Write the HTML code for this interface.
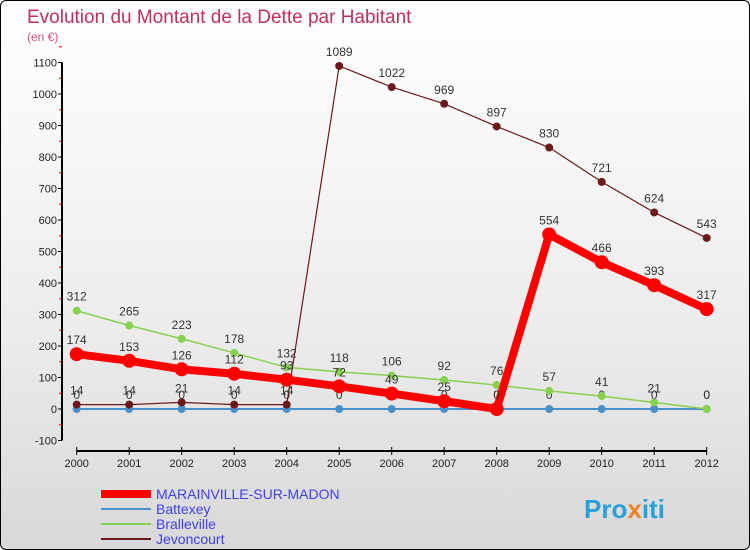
<!DOCTYPE html>
<html><head><meta charset="utf-8"><style>
body{margin:0;width:750px;height:550px;overflow:hidden;font-family:"Liberation Sans",sans-serif}
#frame{position:absolute;left:0;top:0;width:748px;height:548px;border:1px solid #000;border-radius:6px;background:linear-gradient(#fff 0%,#ececec 60%,#d8d8d8 100%);overflow:hidden}
</style></head><body>
<div id="frame">
<svg id="chart" width="750" height="550" style="position:absolute;left:0;top:0">
<text x="26" y="22" font-size="19" fill="#c0305a">Evolution du Montant de la Dette par Habitant</text>
<text x="26" y="40" font-size="12" fill="#d0507a">(en €)</text>
<g id="axes"></g><g id="series"></g><g id="legend"></g>
<text x="583" y="517" font-size="26" font-weight="bold" fill="#2aa0d8">Pro<tspan fill="#f08020">x</tspan>iti</text>
</svg>
</div>
<script>
const years=[2000,2001,2002,2003,2004,2005,2006,2007,2008,2009,2010,2011,2012];
const yTicks=[-100,0,100,200,300,400,500,600,700,800,900,1000,1100];
const marainville=[174,153,126,112,93,72,49,25,0,554,466,393,317];
const battexey=[0,0,0,0,0,0,0,0,0,0,0,0,0];
const bralleville=[312,265,223,178,132,118,106,92,76,57,41,21,0];
const jevoncourt=[14,14,21,14,14,1089,1022,969,897,830,721,624,543];
const NS="http://www.w3.org/2000/svg";
const X=i=>75.7+i*52.5;
const Y=v=>408-v*0.315;
function mk(tag,attrs,parent){const e=document.createElementNS(NS,tag);for(const k in attrs)e.setAttribute(k,attrs[k]);parent.appendChild(e);return e;}
const axes=document.getElementById('axes');
let a=mk('line',{x1:61,y1:Y(1100),x2:61,y2:Y(-100),stroke:'#000','stroke-width':2},axes);


a=mk('line',{x1:X(0),y1:450,x2:X(12),y2:450,stroke:'#000','stroke-width':2},axes);


yTicks.forEach(t=>{
 mk('line',{x1:57,y1:Y(t),x2:61,y2:Y(t),stroke:'#000'},axes);
 mk('line',{x1:58,y1:Y(t+50),x2:61,y2:Y(t+50),stroke:'#e00'},axes);
 const tx=mk('text',{x:56,y:Y(t)+4,'font-size':11,'text-anchor':'end',fill:'#222'},axes);
 tx.textContent=t;
 
 
});
years.forEach((yr,i)=>{
 mk('line',{x1:X(i),y1:446,x2:X(i),y2:454,stroke:'#000'},axes);
 const tx=mk('text',{x:X(i),y:466,'font-size':11,'text-anchor':'middle',fill:'#222'},axes);
 tx.textContent=yr;
 
 
});
const sg=document.getElementById('series');
function series(vals,color,w,r,name,labels){
 const g=mk('g',{},sg);
 
 
 const l=mk('polyline',{points:vals.map((v,i)=>X(i)+','+Y(v)).join(' '),fill:'none',stroke:color,'stroke-width':w},g);
 
 
 vals.forEach((v,i)=>{
  const c=mk('circle',{cx:X(i),cy:Y(v),r:r,fill:color},g);
  
  
  if(labels){const t=mk('text',{x:X(i),y:Y(v)-10,'font-size':12,'text-anchor':'middle',fill:'#333'},g);
  t.textContent=v;
  
  }
 });
}
series(battexey,'#4a90c8',2,4,'battexey',true);
series(bralleville,'#88d050',1.5,4,'bralleville',true);
series(jevoncourt,'#6a1a1a',1.2,4,'jevoncourt',true);
series(marainville,'#ff0000',8,7,'marainville',true);
const lg=document.getElementById('legend');
[['MARAINVILLE-SUR-MADON','#ff0000',8],['Battexey','#4a90c8',2],['Bralleville','#88d050',2],['Jevoncourt','#6a1a1a',2]].forEach((d,i)=>{
 const y=493+i*15;
 const l=mk('line',{x1:100,y1:y,x2:150,y2:y,stroke:d[1],'stroke-width':d[2]},lg);
 
 
 const t=mk('text',{x:155,y:y+5,'font-size':14,fill:'#4040e0'},lg);
 t.textContent=d[0];
 
 
});
</script>
</body></html>
